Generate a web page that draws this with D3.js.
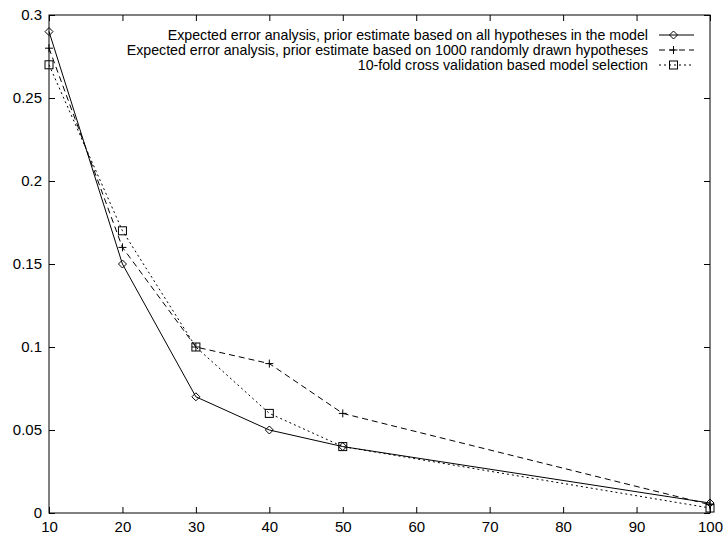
<!DOCTYPE html>
<html>
<head>
<meta charset="utf-8">
<script src="https://cdn.jsdelivr.net/npm/d3@7"></script>
<style>
  body { margin: 0; background: #fff; }
  svg { display: block; font-family: "Liberation Sans", Arial, sans-serif; }
</style>
</head>
<body>
<div id="chart"></div>
<script>
const xValues = [10, 20, 30, 40, 50, 100];
const allHypotheses = [0.29, 0.15, 0.07, 0.05, 0.04, 0.006];
const randomHypotheses = [0.28, 0.16, 0.10, 0.09, 0.06, 0.005];
const crossValidation = [0.27, 0.17, 0.10, 0.06, 0.04, 0.003];
const seriesNames = [
    "Expected error analysis, prior estimate based on all hypotheses in the model",
    "Expected error analysis, prior estimate based on 1000 randomly drawn hypotheses",
    "10-fold cross validation based model selection"
];
const xTicks = [10, 20, 30, 40, 50, 60, 70, 80, 90, 100];
const yTicks = [0, 0.05, 0.1, 0.15, 0.2, 0.25, 0.3];

const width = 723, height = 536;
const margin = { top: 15, right: 13, bottom: 23, left: 49 };

const svg = d3.select("#chart").append("svg")
    .attr("width", width)
    .attr("height", height);

const x = d3.scaleLinear().domain([10, 100]).range([margin.left, width - margin.right]);
const y = d3.scaleLinear().domain([0, 0.3]).range([height - margin.bottom, margin.top]);

const tickLen = 6;

// frame
svg.append("rect")
    .attr("x", x(10)).attr("y", y(0.3))
    .attr("width", x(100) - x(10)).attr("height", y(0) - y(0.3))
    .attr("fill", "none").attr("stroke", "#000").attr("stroke-width", 1);

// axes (ticks inside, mirrored)
const gx = svg.append("g").attr("transform", `translate(0,${y(0)})`)
    .call(d3.axisBottom(x).tickValues(xTicks).tickSizeInner(-tickLen).tickSizeOuter(0).tickPadding(8));
const gxTop = svg.append("g").attr("transform", `translate(0,${y(0.3)})`)
    .call(d3.axisTop(x).tickValues(xTicks).tickSizeInner(-tickLen).tickSizeOuter(0).tickFormat(""));
const gy = svg.append("g").attr("transform", `translate(${x(10)},0)`)
    .call(d3.axisLeft(y).tickValues(yTicks).tickSizeInner(-tickLen).tickSizeOuter(0).tickPadding(7).tickFormat(d3.format("~g")));
const gyRight = svg.append("g").attr("transform", `translate(${x(100)},0)`)
    .call(d3.axisRight(y).tickValues(yTicks).tickSizeInner(-tickLen).tickSizeOuter(0).tickFormat(""));

[gx, gxTop, gy, gyRight].forEach(g => {
    g.select(".domain").remove();
    g.selectAll("text").attr("font-size", 15).attr("fill", "#000")
        .attr("font-family", "'Liberation Sans', Arial, sans-serif");
});

const styles = [
    { data: allHypotheses, dash: null, marker: "diamond" },
    { data: randomHypotheses, dash: "6,4", marker: "plus" },
    { data: crossValidation, dash: "2,3", marker: "square" }
];

function drawMarker(g, type, cx, cy) {
    if (type === "diamond") {
        g.append("path")
            .attr("d", `M${cx},${cy - 4}L${cx + 4},${cy}L${cx},${cy + 4}L${cx - 4},${cy}Z`)
            .attr("fill", "none").attr("stroke", "#000");
    } else if (type === "plus") {
        g.append("path")
            .attr("d", `M${cx - 4},${cy}H${cx + 4}M${cx},${cy - 4}V${cy + 4}`)
            .attr("fill", "none").attr("stroke", "#000");
    } else {
        g.append("rect")
            .attr("x", cx - 4).attr("y", cy - 4).attr("width", 8).attr("height", 8)
            .attr("fill", "none").attr("stroke", "#000");
    }
}

const line = d3.line().x((d, i) => x(xValues[i])).y(d => y(d));

styles.forEach(s => {
    const g = svg.append("g");
    g.append("path")
        .datum(s.data)
        .attr("d", line)
        .attr("fill", "none")
        .attr("stroke", "#000")
        .attr("stroke-width", 1)
        .attr("stroke-dasharray", s.dash);
    s.data.forEach((v, i) => drawMarker(g, s.marker, x(xValues[i]), y(v)));
});

// legend
const legend = svg.append("g");
const legendTextX = 648, sampleX0 = 659, sampleX1 = 694;
styles.forEach((s, i) => {
    const ly = 35 + i * 15;
    legend.append("text")
        .attr("x", legendTextX).attr("y", ly)
        .attr("dy", "0.35em")
        .attr("text-anchor", "end")
        .attr("font-size", 14.2)
        .text(seriesNames[i]);
    legend.append("line")
        .attr("x1", sampleX0).attr("x2", sampleX1)
        .attr("y1", ly).attr("y2", ly)
        .attr("stroke", "#000")
        .attr("stroke-dasharray", s.dash);
    drawMarker(legend, s.marker, (sampleX0 + sampleX1) / 2 - 3, ly);
});
</script>
</body>
</html>
